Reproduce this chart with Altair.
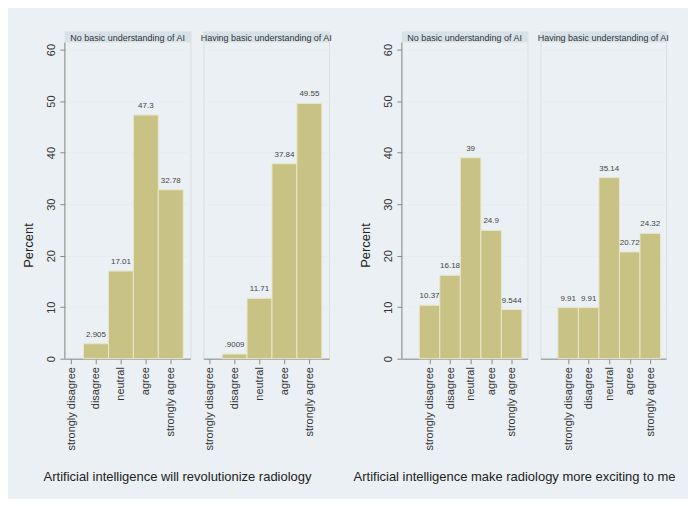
import altair as alt
import pandas as pd

categories = ["strongly disagree", "disagree", "neutral", "agree", "strongly agree"]
cat_index = [1, 2, 3, 4, 5]
groups = ["No basic understanding of AI", "Having basic understanding of AI"]
questions = [
    "Artificial intelligence will revolutionize radiology",
    "Artificial intelligence make radiology more exciting to me",
]
q1_no = [0, 2.905, 17.01, 47.3, 32.78]
q1_no_labels = ["0", "2.905", "17.01", "47.3", "32.78"]
q1_yes = [0, 0.9009, 11.71, 37.84, 49.55]
q1_yes_labels = ["0", ".9009", "11.71", "37.84", "49.55"]
q2_no = [10.37, 16.18, 39, 24.9, 9.544]
q2_no_labels = ["10.37", "16.18", "39", "24.9", "9.544"]
q2_yes = [9.91, 9.91, 35.14, 20.72, 24.32]
q2_yes_labels = ["9.91", "9.91", "35.14", "20.72", "24.32"]
y_ticks = [0, 10, 20, 30, 40, 50, 60]

BG = "#EAF0F3"
STRIP = "#D6E2E8"
BAR = "#C8C285"
FONT = "Liberation Sans"
W = 126
HEAD = 11
PLOT_H = 317
H = PLOT_H + HEAD
Y_TOP = 61.35
Y_MAX = Y_TOP * H / PLOT_H

label_expr = "[" + ",".join("'%s'" % c for c in categories) + "][datum.value - 1]"


def panel(values, labels, header, xdomain, show_y):
    df = pd.DataFrame({"idx": cat_index, "pct": values, "label": labels})
    df = df[df["pct"] > 0]
    base = alt.Chart(df).transform_calculate(
        lo="datum.idx - 0.5", hi="datum.idx + 0.5", zero="0"
    )
    if show_y:
        yaxis = alt.Axis(
            values=y_ticks, grid=True, gridColor="#E6EDF0", domain=False,
            tickColor="#8a8a8a", tickSize=5, labelAngle=-90, labelAlign="center",
            labelBaseline="bottom", labelPadding=3, labelFontSize=11, labelColor="#333",
            title="Percent", titleFontSize=13, titleFontWeight="normal",
            titleColor="#222", titlePadding=10, titleY=214,
        )
    else:
        yaxis = alt.Axis(
            values=y_ticks, grid=True, gridColor="#E6EDF0", domain=False,
            ticks=False, labels=False, title=None, minExtent=0, maxExtent=0,
        )
    xaxis = alt.Axis(
        values=cat_index, labelExpr=label_expr, labelAngle=-90, labelAlign="right",
        labelBaseline="middle", labelFontSize=11, labelColor="#333", labelPadding=3,
        labelOverlap=False, labelBound=False, labelFlush=False,
        tickSize=5, tickColor="#8a8a8a", domainColor="#8a8a8a",
        grid=False, title=None,
    )
    xscale = alt.Scale(domain=xdomain, nice=False, zero=False)
    yscale = alt.Scale(domain=[0, Y_MAX], nice=False)
    bars = base.mark_rect(stroke="#E9E6CC", strokeWidth=1).encode(
        x=alt.X("lo:Q", scale=xscale, axis=xaxis),
        x2="hi:Q",
        y=alt.Y("pct:Q", scale=yscale, axis=yaxis),
        y2="zero:Q",
        color=alt.value(BAR),
    )
    texts = base.mark_text(
        baseline="bottom", dy=-5, fontSize=8, color="#444", font=FONT
    ).encode(
        x=alt.X("idx:Q", scale=xscale, axis=xaxis),
        y=alt.Y("pct:Q", scale=yscale, axis=yaxis),
        text="label:N",
    )
    hdf = pd.DataFrame({"t": [header]})
    hrect = alt.Chart(hdf).mark_rect().encode(
        x=alt.value(0), x2=alt.value(W), y=alt.value(0), y2=alt.value(HEAD),
        color=alt.value(STRIP),
    )
    htext = alt.Chart(hdf).mark_text(
        fontSize=9, color="#333", baseline="middle", font=FONT
    ).encode(x=alt.value(W / 2), y=alt.value(HEAD / 2 + 0.5), text="t:N")
    layers = [bars, texts, hrect, htext]
    if show_y:
        yline = alt.Chart(hdf).mark_rule(color="#8a8a8a", strokeWidth=1).encode(
            x=alt.value(0), y=alt.value(HEAD), y2=alt.value(H)
        )
        layers.append(yline)
    return alt.layer(*layers).properties(width=W, height=H)


left_dom = [0.75, 5.79]
right_dom = [-0.35, 5.77]

left = alt.hconcat(
    panel(q1_no, q1_no_labels, groups[0], left_dom, True),
    panel(q1_yes, q1_yes_labels, groups[1], left_dom, False),
    spacing=8,
    title=alt.TitleParams(questions[0], orient="bottom", anchor="middle",
                          fontSize=13, fontWeight="normal", color="#222", offset=20),
)
right = alt.hconcat(
    panel(q2_no, q2_no_labels, groups[0], right_dom, True),
    panel(q2_yes, q2_yes_labels, groups[1], right_dom, False),
    spacing=8,
    title=alt.TitleParams(questions[1], orient="bottom", anchor="middle",
                          fontSize=13, fontWeight="normal", color="#222", offset=20),
)

chart = alt.hconcat(left, right, spacing=20).properties(
    background=BG,
    padding={"left": 14, "top": 22, "right": 12, "bottom": 14},
).configure_view(fill="white", stroke=None).configure(font=FONT).configure_axis(
    labelFont=FONT, titleFont=FONT
).configure_title(font=FONT)

chart.save("out.html", embed_options={"renderer": "svg", "actions": False})
